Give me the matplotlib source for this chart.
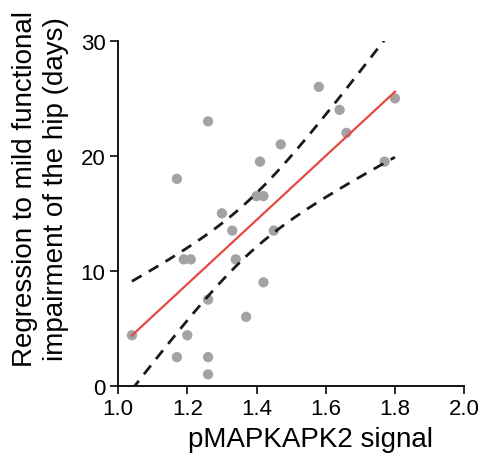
import numpy as np
import matplotlib.pyplot as plt

plt.rcParams['font.family'] = ['Liberation Sans', 'DejaVu Sans']

# pMAPKAPK2 signal vs days to regression
signal = [1.04, 1.17, 1.20, 1.19, 1.21, 1.26, 1.26, 1.26, 1.30, 1.33, 1.34, 1.37, 1.42,
          1.45, 1.40, 1.42, 1.26, 1.17, 1.47, 1.41, 1.58, 1.64, 1.66, 1.80, 1.77]
days = [4.4, 2.5, 4.4, 11, 11, 2.5, 1.0, 7.5, 15, 13.5, 11, 6, 9,
        13.5, 16.5, 16.5, 23, 18, 21, 19.5, 26, 24, 22, 25, 19.5]

x = np.array(signal)
y = np.array(days)
n = len(x)
slope, icpt = np.polyfit(x, y, 1)
resid = y - (slope * x + icpt)
s = np.sqrt(np.sum(resid ** 2) / (n - 2))
xx = np.linspace(x.min(), x.max(), 100)
yy = slope * xx + icpt
se = s * np.sqrt(1 / n + (xx - x.mean()) ** 2 / np.sum((x - x.mean()) ** 2))
t = 2.069  # t(0.975, 23)

fig = plt.figure(figsize=(4.82, 4.6), dpi=100)
ax = fig.add_axes([0.245, 0.159, 0.718, 0.75])
ax.scatter(x, y, s=55, color='#a3a3a3', edgecolors='none', zorder=2)
ax.plot(xx, yy, color='#e8483f', lw=1.6, zorder=3)
ax.plot(xx, yy + t * se, color='#1a1a1a', lw=2, ls=(0, (4, 3)), zorder=3)
ax.plot(xx, yy - t * se, color='#1a1a1a', lw=2, ls=(0, (4, 3)), zorder=3)

ax.set_xlim(1.0, 2.0)
ax.set_ylim(0, 30)
ax.set_xticks([1.0, 1.2, 1.4, 1.6, 1.8, 2.0])
ax.set_yticks([0, 10, 20, 30])
for sp in ['top', 'right']:
    ax.spines[sp].set_visible(False)
for sp in ['left', 'bottom']:
    ax.spines[sp].set_linewidth(1.3)
ax.tick_params(labelsize=16, width=1.3, length=6, pad=3, color='#1a1a1a')
ax.set_xlabel('pMAPKAPK2 signal', fontsize=20)
ax.xaxis.set_label_coords(0.555, -0.115)
fig.text(0.083, 0.59, 'Regression to mild functional\nimpairment of the hip (days)',
         fontsize=20, rotation=90, ha='center', va='center', linespacing=1.25)

fig.savefig('out.png', dpi=100)
